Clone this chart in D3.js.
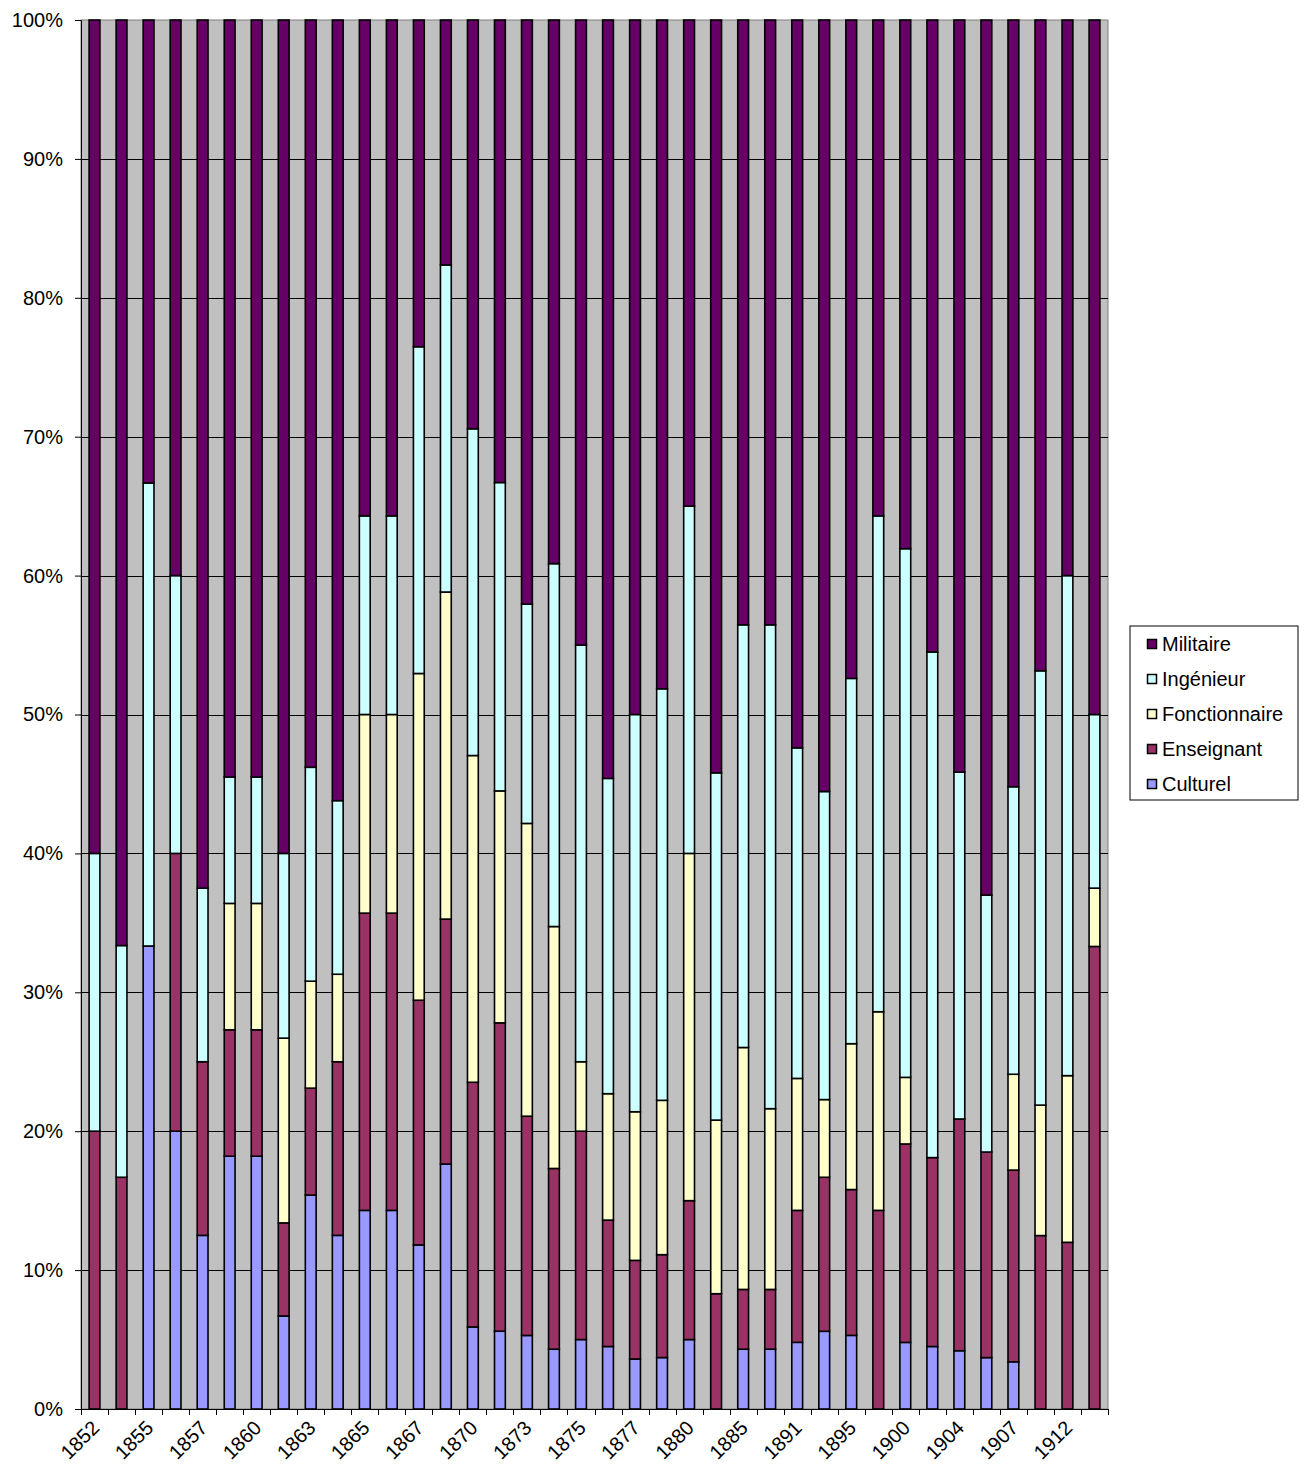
<!DOCTYPE html>
<html>
<head>
<meta charset="utf-8">
<script src="https://cdn.jsdelivr.net/npm/d3@7"></script>
<style>
  body { margin: 0; background: #fff; }
  text { font-family: Arial, "Liberation Sans", sans-serif; fill: #000; }
</style>
</head>
<body>
<div id="chart"></div>
<script>
// categories (only every other one is labelled on the axis)
const years = ["1852","1854","1855","1856","1857","1858","1860","1862","1863","1864",
               "1865","1866","1867","1868","1870","1872","1873","1874","1875","1876",
               "1877","1878","1880","1882","1885","1888","1891","1893","1895","1898",
               "1900","1902","1904","1906","1907","1910","1912","1913"];

// shares in %
const culturel      = [0,0,33.3,20,12.5,18.2,18.2,6.7,15.4,12.5,14.3,14.3,11.8,17.6,5.9,5.6,5.3,4.3,5,4.5,
                       3.6,3.7,5,0,4.3,4.3,4.8,5.6,5.3,0,4.8,4.5,4.2,3.7,3.4,0,0,0];
const enseignant    = [20,16.7,0,20,12.5,9.1,9.1,6.7,7.7,12.5,21.4,21.4,17.6,17.6,17.6,22.2,15.8,13,15,9.1,
                       7.1,7.4,10,8.3,4.3,4.3,9.5,11.1,10.5,14.3,14.3,13.6,16.7,14.8,13.8,12.5,12,33.3];
const fonctionnaire = [0,0,0,0,0,9.1,9.1,13.3,7.7,6.3,14.3,14.3,23.5,23.5,23.5,16.7,21.1,17.4,5,9.1,
                       10.7,11.1,25,12.5,17.4,13,9.5,5.6,10.5,14.3,4.8,0,0,0,6.9,9.4,12,4.2];
const ingenieur     = [20,16.7,33.3,20,12.5,9.1,9.1,13.3,15.4,12.5,14.3,14.3,23.5,23.5,23.5,22.2,15.8,26.1,30,22.7,
                       28.6,29.6,25,25,30.4,34.8,23.8,22.2,26.3,35.7,38.1,36.4,25,18.5,20.7,31.3,36,12.5];
const militaire     = [60,66.7,33.3,40,62.5,54.5,54.5,60,53.8,56.2,35.7,35.7,23.5,17.6,29.4,33.3,42.1,39.1,45,54.6,
                       50,48.1,35,54.2,43.5,43.5,52.4,55.6,47.4,35.7,38.1,45.5,54.2,63,55.2,46.9,40,50];

const seriesNames  = ["Culturel","Enseignant","Fonctionnaire","Ingénieur","Militaire"];
const seriesValues = [culturel, enseignant, fonctionnaire, ingenieur, militaire];
const seriesColors = ["#9999FF","#993366","#FFFFCC","#CCFFFF","#660066"];
const yTicks = [0,0.1,0.2,0.3,0.4,0.5,0.6,0.7,0.8,0.9,1];

const width = 1309, height = 1470;
const margin = { top: 20, right: 201, bottom: 61, left: 81 };
const innerW = width - margin.left - margin.right;
const innerH = height - margin.top - margin.bottom;
const fontSize = "20px";

const table = years.map((y, i) => {
    const row = { year: y };
    seriesNames.forEach((s, k) => row[s] = seriesValues[k][i]);
    return row;
});

const stack = d3.stack()
    .keys(seriesNames)
    .offset(d3.stackOffsetExpand);
const layers = stack(table);

const svg = d3.select("#chart")
    .append("svg")
    .attr("width", width)
    .attr("height", height);

const g = svg.append("g")
    .attr("transform", `translate(${margin.left},${margin.top})`);

const x = d3.scaleBand()
    .domain(years)
    .range([0, innerW])
    .paddingInner(0.6)
    .paddingOuter(0.3);

const y = d3.scaleLinear()
    .domain([0, 1])
    .range([innerH, 0]);

// plot background
g.append("rect")
    .attr("width", innerW)
    .attr("height", innerH)
    .attr("fill", "#C0C0C0")
    .attr("stroke", "#808080")
    .attr("stroke-width", 1);

// gridlines
g.append("g")
    .selectAll("line")
    .data(yTicks.slice(1, -1))
    .join("line")
    .attr("x1", 0)
    .attr("x2", innerW)
    .attr("y1", d => Math.round(y(d)) + 0.5)
    .attr("y2", d => Math.round(y(d)) + 0.5)
    .attr("stroke", "#000")
    .attr("stroke-width", 1);

// bars
g.append("g")
    .selectAll("g")
    .data(layers)
    .join("g")
    .attr("fill", (d, i) => seriesColors[i])
    .selectAll("rect")
    .data(d => d)
    .join("rect")
    .attr("x", d => x(d.data.year))
    .attr("width", x.bandwidth())
    .attr("y", d => y(d[1]))
    .attr("height", d => y(d[0]) - y(d[1]))
    .attr("stroke", "#000")
    .attr("stroke-width", 1.6);

// y axis
const yAxis = g.append("g")
    .call(d3.axisLeft(y)
        .tickValues(yTicks)
        .tickFormat(d3.format(".0%"))
        .tickSize(6)
        .tickPadding(12));
yAxis.select(".domain").attr("stroke", "#000");
yAxis.selectAll("text").attr("font-size", fontSize).attr("font-family", "Arial, 'Liberation Sans', sans-serif");

// x axis: ticks on the band edges, labels on every other category
const xAxisG = g.append("g")
    .attr("transform", `translate(0,${innerH})`);
xAxisG.append("line")
    .attr("x1", 0).attr("x2", innerW)
    .attr("y1", 0.5).attr("y2", 0.5)
    .attr("stroke", "#000");
xAxisG.selectAll(".tick")
    .data(d3.range(years.length + 1))
    .join("line")
    .attr("class", "tick")
    .attr("x1", i => Math.round(i * x.step()) + 0.5)
    .attr("x2", i => Math.round(i * x.step()) + 0.5)
    .attr("y1", 0)
    .attr("y2", 6)
    .attr("stroke", "#000");
xAxisG.selectAll(".lbl")
    .data(years.filter((d, i) => i % 2 === 0))
    .join("text")
    .attr("class", "lbl")
    .attr("text-anchor", "end")
    .attr("font-size", fontSize)
    .attr("transform", d => `translate(${x(d) + x.bandwidth() / 2 - 4},${10}) rotate(-45)`)
    .attr("dy", "0.71em")
    .text(d => d);

// legend
const legend = svg.append("g")
    .attr("transform", "translate(1130,626)");
legend.append("rect")
    .attr("width", 168)
    .attr("height", 174)
    .attr("fill", "#fff")
    .attr("stroke", "#000");

const legendItems = legend.selectAll(".item")
    .data(seriesNames.slice().reverse())
    .join("g")
    .attr("class", "item")
    .attr("transform", (d, i) => `translate(17,${18 + i * 35})`);
legendItems.append("rect")
    .attr("x", 0.5)
    .attr("y", -4.5)
    .attr("width", 9)
    .attr("height", 9)
    .attr("fill", d => seriesColors[seriesNames.indexOf(d)])
    .attr("stroke", "#000")
    .attr("stroke-width", 1.5);
legendItems.append("text")
    .attr("x", 15)
    .attr("dy", "0.35em")
    .attr("font-size", fontSize)
    .text(d => d);
</script>
</body>
</html>
